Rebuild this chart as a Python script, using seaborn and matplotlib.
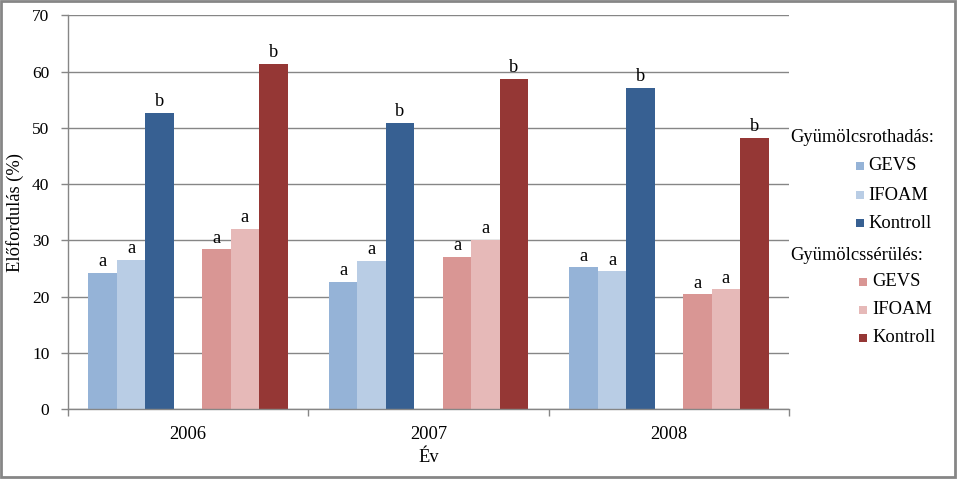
import matplotlib
matplotlib.use("Agg")
import matplotlib.pyplot as plt
import seaborn as sns
import pandas as pd
from matplotlib.patches import Rectangle

# ---- data ----
years = ["2006", "2007", "2008"]
rot_gevs = [24.3, 22.7, 25.2]
rot_ifoam = [26.6, 26.4, 24.5]
rot_kontroll = [52.6, 50.9, 57.1]
ser_gevs = [28.4, 27.1, 20.4]
ser_ifoam = [32.1, 30.1, 21.3]
ser_kontroll = [61.3, 58.7, 48.2]
treatments = ["GEVS", "IFOAM", "Kontroll"]
letters = ["a", "a", "b"]  # significance letters per treatment
group_titles = ["Gyümölcsrothadás:", "Gyümölcssérülés:"]
blue_colors = ["#95B3D7", "#B9CDE5", "#376092"]
red_colors = ["#D99694", "#E6B9B8", "#953735"]

series = {
    "rot_GEVS": rot_gevs, "rot_IFOAM": rot_ifoam, "rot_Kontroll": rot_kontroll,
    "gap": [0, 0, 0],
    "ser_GEVS": ser_gevs, "ser_IFOAM": ser_ifoam, "ser_Kontroll": ser_kontroll,
}
hue_order = list(series.keys())
palette = dict(zip(hue_order, blue_colors + ["#FFFFFF"] + red_colors))
letter_map = {}
for prefix in ["rot_", "ser_"]:
    for t, l in zip(treatments, letters):
        letter_map[prefix + t] = l

rows = []
for name, vals in series.items():
    for y, v in zip(years, vals):
        rows.append({"year": y, "series": name, "value": v})
df = pd.DataFrame(rows)

plt.rcParams["font.family"] = ["Liberation Serif", "DejaVu Serif"]
grey = "#868686"

W, H = 957, 480
fig = plt.figure(figsize=(W / 100, H / 100), dpi=100)
ax = fig.add_axes([67.7 / W, 1 - 409.3 / H, (789.3 - 67.7) / W, (409.3 - 15.3) / H])

sns.barplot(data=df, x="year", y="value", hue="series", order=years,
            hue_order=hue_order, palette=palette, width=0.828, errorbar=None,
            linewidth=0, saturation=1, legend=False, ax=ax)

ax.set_ylim(0, 70)
ax.set_xlim(-0.5, 2.5)
ax.set_yticks(range(0, 71, 10))
ax.yaxis.grid(True, color=grey, linewidth=1)
ax.set_axisbelow(True)
for s in ["top", "right"]:
    ax.spines[s].set_visible(False)
for s in ["left", "bottom"]:
    ax.spines[s].set_color(grey)
    ax.spines[s].set_linewidth(1)

ax.tick_params(axis="y", length=4.7, width=1, color=grey, pad=8.5, labelsize=12.5)
ax.tick_params(axis="x", which="major", length=0, pad=12, labelsize=13.3)
ax.set_xticks([-0.5, 0.5, 1.5, 2.5], minor=True)
ax.tick_params(axis="x", which="minor", length=5, width=1, color=grey)

ax.set_xlabel("Év", fontsize=13.3, labelpad=4)
ax.set_ylabel("Előfordulás (%)", fontsize=13.3, labelpad=6)

# significance letters
for p in ax.patches:
    h = p.get_height()
    if h <= 0:
        continue
    w = p.get_width()
    xc = p.get_x() + w / 2
    g = int(round(xc))
    k = int(round((xc - g) / w + 3))
    name = hue_order[k]
    if name == "gap":
        continue
    ax.annotate(letter_map[name], (xc, h), xytext=(0, 2), textcoords="offset points",
                ha="center", va="bottom", fontsize=13.3)

# legend (manual, Excel-like with section titles)
def fx(x):
    return x / W

def fy(y):
    return 1 - y / H

fig.text(fx(790), fy(138), group_titles[0], ha="left", va="center", fontsize=13.3)
fig.text(fx(790), fy(255), group_titles[1], ha="left", va="center", fontsize=13.3)
sq = 8
for i, (t, c) in enumerate(zip(treatments, blue_colors)):
    yc = [166, 195, 223][i]
    fig.add_artist(Rectangle((fx(855.5), fy(yc + sq / 2)), sq / W, sq / H,
                             transform=fig.transFigure, facecolor=c, edgecolor="none"))
    fig.text(fx(868), fy(yc), t, ha="left", va="center", fontsize=13.3)
for i, (t, c) in enumerate(zip(treatments, red_colors)):
    yc = [282, 310, 338][i]
    fig.add_artist(Rectangle((fx(859), fy(yc + sq / 2)), sq / W, sq / H,
                             transform=fig.transFigure, facecolor=c, edgecolor="none"))
    fig.text(fx(872), fy(yc), t, ha="left", va="center", fontsize=13.3)

# chart border
fig.add_artist(Rectangle((0.5 / W, 3 / H), (W - 2.5) / W, (H - 4) / H,
                         transform=fig.transFigure, facecolor="none",
                         edgecolor=grey, linewidth=2))

fig.savefig("out.png", dpi=100)
